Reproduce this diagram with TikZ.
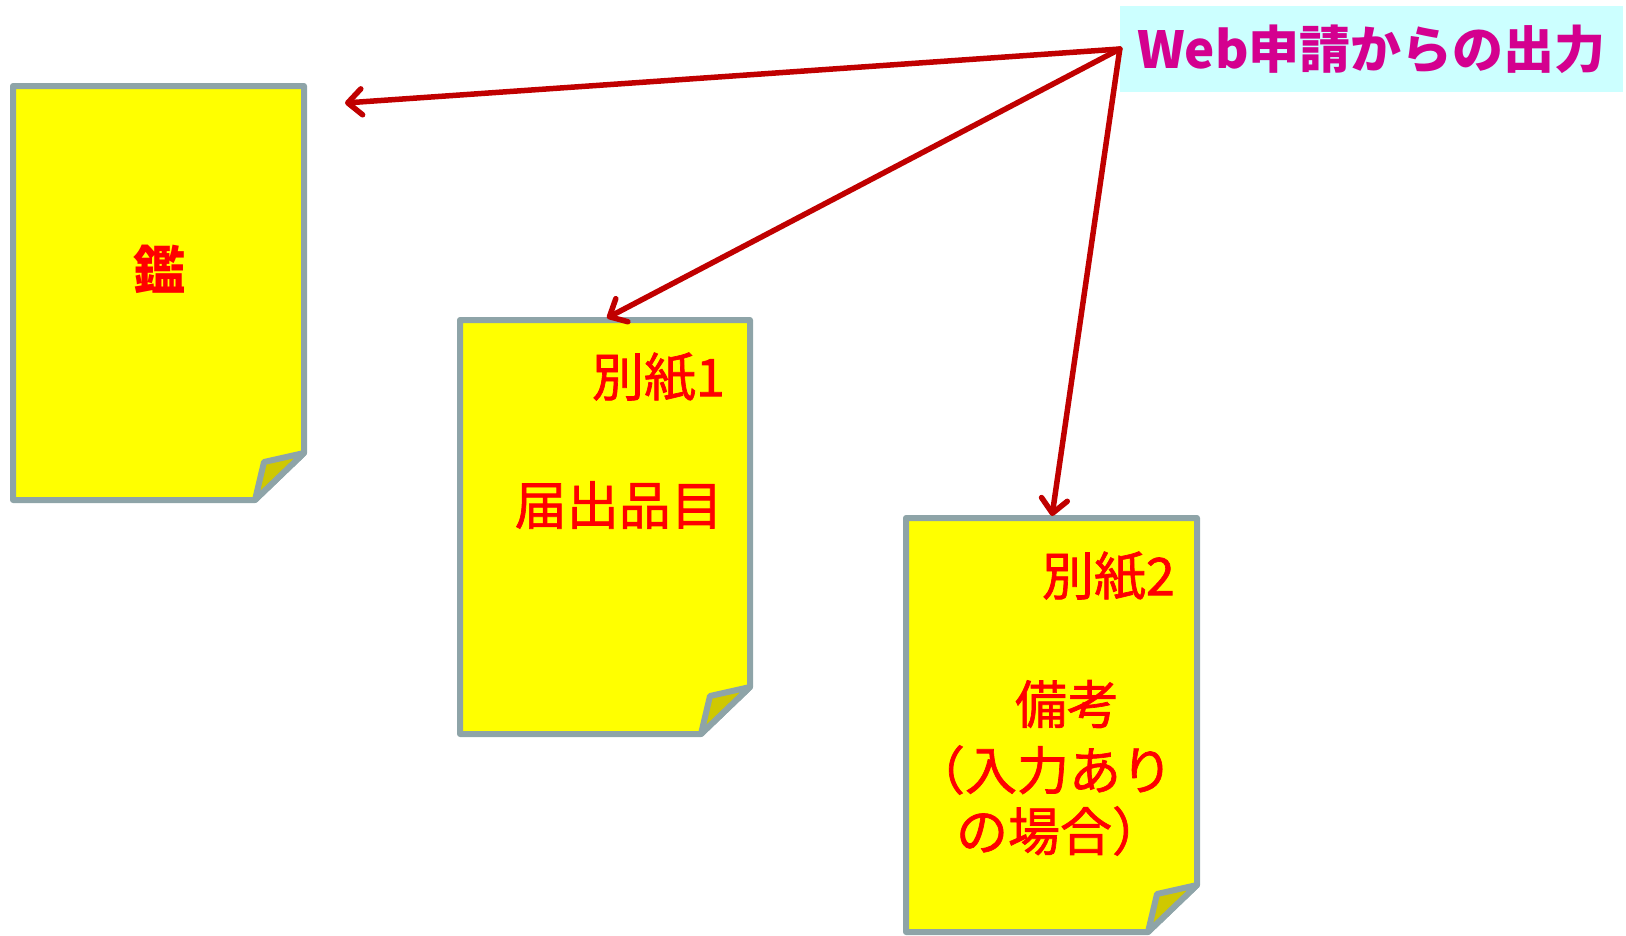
\documentclass[tikz,border=0pt]{standalone}
\usepackage{fontspec}
\newfontfamily\jp{Noto Sans CJK JP}
\newfontfamily\jpm[FakeBold=1.3]{Noto Sans CJK JP}
\usetikzlibrary{arrows.meta}
\definecolor{pagefill}{HTML}{FFFF00}
\definecolor{pageline}{HTML}{8EA4A8}
\definecolor{foldfill}{HTML}{CFC800}
\definecolor{arrred}{HTML}{C00000}
\definecolor{txtred}{HTML}{FF0000}
\definecolor{lblmag}{HTML}{D4008F}
\definecolor{lblbg}{HTML}{CCFFFF}
\newcommand\mypage[4]{%
  \draw[pagebody] (#1,#2) -- (#3,#2) -- (#3,#4-47) -- (#3-49,#4) -- (#1,#4) -- cycle;
  \draw[foldpart] (#3-49,#4) -- (#3-40,#4-38) -- (#3,#4-47) -- cycle;}
\begin{document}
\begin{tikzpicture}[x=1pt,y=-1pt,
  pagebody/.style={fill=pagefill,draw=pageline,line width=6pt,line join=round},
  foldpart/.style={fill=foldfill,draw=pageline,line width=6pt,line join=round},
  doctext/.style={text=txtred,font=\jpm\fontsize{52}{60}\selectfont,inner sep=0pt},
  arr/.style={draw=arrred,line width=5.5pt,line cap=round,-{Straight Barb[length=14pt,width=26pt,round]}},
  lbl/.style={fill=lblbg,text=lblmag,font=\jp\bfseries\fontsize{51}{55}\selectfont,inner sep=0pt,minimum width=503pt,minimum height=86pt}
]
\useasboundingbox (0,0) rectangle (1626,935);
\mypage{13}{86}{304}{500}
\mypage{460}{320}{750}{734}
\mypage{906}{518}{1197}{932}
\node[doctext,font=\jp\bfseries\fontsize{52}{60}\selectfont] (kan) at (159,269) {鑑};
\node[doctext,anchor=east] (b1a) at (725,377) {別紙1};
\node[doctext,anchor=east] (b1b) at (723,505) {届出品目};
\node[doctext,anchor=east] (b2a) at (1175,576) {別紙2};
\node[doctext] (b2b) at (1067,704) {備考};
\node[doctext] (b2c) at (1043,770) {（入力あり};
\node[doctext] (b2d) at (1060,831) {の場合）};
\node[lbl] (web) at (1371.5,49) {Web申請からの出力};
\coordinate (t1) at (345,103);
\coordinate (t2) at (607,318);
\coordinate (t3) at (1052,516);
\draw[arr] (web.west) -- (t1);
\draw[arr] (web.west) -- (t2);
\draw[arr] (web.west) -- (t3);
\end{tikzpicture}
\end{document}
